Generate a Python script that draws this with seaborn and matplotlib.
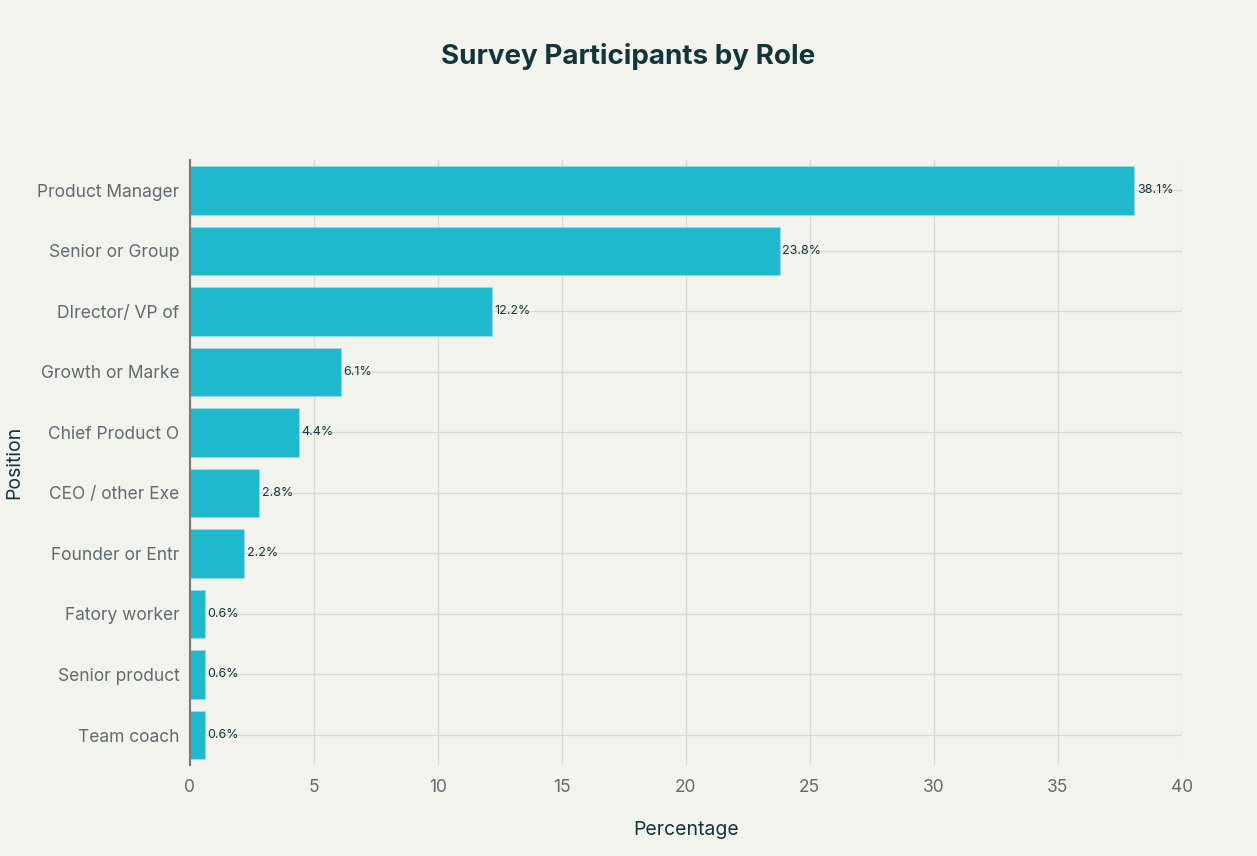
import matplotlib
matplotlib.use("Agg")
import matplotlib.pyplot as plt
import seaborn as sns
import pandas as pd

# -----------------------------
# DATA
# -----------------------------
positions = [
    "Product Manager",
    "Senior or Group",
    "DIrector/ VP of",
    "Growth or Marke",
    "Chief Product O",
    "CEO / other Exe",
    "Founder or Entr",
    "Fatory worker",
    "Senior product",
    "Team coach",
]
percentages = [38.1, 23.8, 12.2, 6.1, 4.4, 2.8, 2.2, 0.6, 0.6, 0.6]

df = pd.DataFrame({"Position": positions, "Percentage": percentages})

# -----------------------------
# STYLE
# -----------------------------
BG = "#F3F3EE"
BAR = "#1FB8CD"
DARK = "#13343B"
GREY = "#5F6B70"

sns.set_theme(style="whitegrid")
plt.rcParams["font.family"] = ["Inter", "DejaVu Sans"]

fig = plt.figure(figsize=(12.57, 8.56), dpi=100, facecolor=BG)
ax = fig.add_axes([0.151, 0.106, 0.789, 0.707])
ax.set_facecolor(BG)

sns.barplot(data=df, x="Percentage", y="Position", color=BAR, width=0.8,
            saturation=1, ax=ax, edgecolor="#9ED9E3", linewidth=0.6, zorder=3)

for i, v in enumerate(percentages):
    ax.text(v + 0.1, i, f"{v}%", va="center", ha="left", fontsize=9,
            color=DARK, zorder=4)

ax.set_xlim(0, 40)
ax.set_ylim(9.5, -0.5)
ax.set_xticks(range(0, 41, 5))
ax.grid(True, axis="both", color="#DADAD5", linewidth=1)
ax.set_axisbelow(True)
for s in ["top", "right", "bottom"]:
    ax.spines[s].set_visible(False)
ax.spines["left"].set_color("#77797A")
ax.spines["left"].set_linewidth(1.5)
ax.spines["left"].set_zorder(5)

ax.tick_params(axis="both", colors=GREY, labelsize=12.5, width=1)
ax.tick_params(axis="x", length=6, pad=4, color="#DADAD5")
ax.tick_params(axis="y", length=4, pad=3.5, color="#DADAD5")

ax.set_xlabel("Percentage", fontsize=14, color=DARK, labelpad=18)
ax.set_ylabel("Position", fontsize=14, color=DARK, labelpad=10)

fig.suptitle("Survey Participants by Role", fontsize=20, fontweight="bold",
             color=DARK, y=0.95)

fig.savefig("out.png", dpi=100, facecolor=BG)
